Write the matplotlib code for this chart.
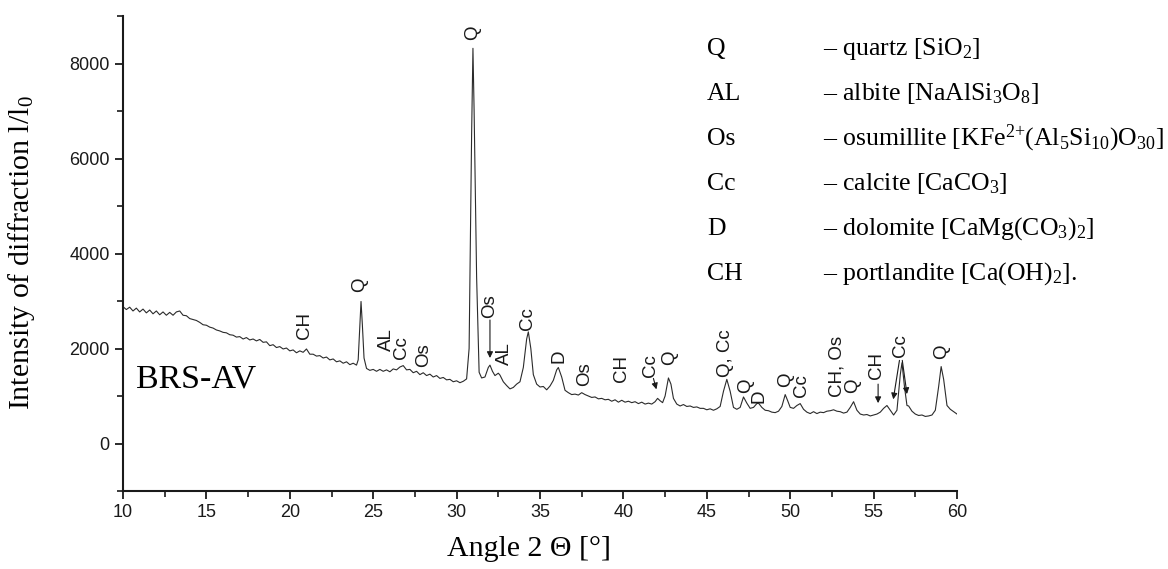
import matplotlib
matplotlib.use("Agg")
import matplotlib.pyplot as plt
from matplotlib.ticker import MultipleLocator

plt.rcParams['font.family'] = ['Liberation Sans', 'DejaVu Sans']
plt.rcParams['mathtext.fontset'] = 'custom'
plt.rcParams['mathtext.rm'] = 'Liberation Serif'
plt.rcParams['mathtext.it'] = 'Liberation Serif:italic'

# diffractogram (2 theta in degrees, counts)
two_theta = [10.0, 10.2, 10.4, 10.6, 10.8, 11.0, 11.2, 11.4, 11.6, 11.8,
             12.0, 12.2, 12.4, 12.6, 12.8, 13.0, 13.2, 13.4, 13.6, 13.8,
             14.0, 14.2, 14.4, 14.6, 14.8, 15.0, 15.2, 15.4, 15.6, 15.8,
             16.0, 16.2, 16.4, 16.6, 16.8, 17.0, 17.2, 17.4, 17.6, 17.8,
             18.0, 18.2, 18.4, 18.6, 18.8, 19.0, 19.2, 19.4, 19.6, 19.8,
             20.0, 20.2, 20.4, 20.6, 20.8, 21.0, 21.2, 21.4, 21.6, 21.8,
             22.0, 22.2, 22.4, 22.6, 22.8, 23.0, 23.2, 23.4, 23.6, 23.8,
             24.0, 24.1, 24.2, 24.27, 24.35, 24.45, 24.6, 24.8, 25.0, 25.2,
             25.4, 25.6, 25.8, 26.0, 26.2, 26.4, 26.6, 26.8, 27.0, 27.2,
             27.4, 27.6, 27.8, 28.0, 28.2, 28.4, 28.6, 28.8, 29.0, 29.2,
             29.4, 29.6, 29.8, 30.0, 30.2, 30.4, 30.6, 30.75, 30.9, 30.98,
             31.05, 31.2, 31.35, 31.5, 31.7, 31.9, 32.0, 32.15, 32.3, 32.5,
             32.6, 32.8, 33.0, 33.2, 33.4, 33.6, 33.8, 34.0, 34.2, 34.3,
             34.45, 34.6, 34.8, 35.0, 35.2, 35.4, 35.6, 35.8, 36.0, 36.1,
             36.3, 36.5, 36.7, 36.9, 37.1, 37.3, 37.5, 37.7, 37.9, 38.1,
             38.3, 38.5, 38.7, 38.9, 39.1, 39.3, 39.5, 39.7, 39.9, 40.1,
             40.3, 40.5, 40.7, 40.9, 41.1, 41.3, 41.5, 41.7, 41.9, 42.05,
             42.2, 42.35, 42.5, 42.7, 42.85, 43.0, 43.2, 43.4, 43.6, 43.8,
             44.0, 44.2, 44.4, 44.6, 44.8, 45.0, 45.2, 45.4, 45.6, 45.8,
             46.0, 46.2, 46.4, 46.6, 46.8, 47.0, 47.2, 47.4, 47.6, 47.8,
             48.0, 48.1, 48.3, 48.5, 48.7, 48.9, 49.1, 49.3, 49.5, 49.7,
             49.85, 50.0, 50.2, 50.4, 50.6, 50.8, 51.0, 51.2, 51.4, 51.6,
             51.8, 52.0, 52.2, 52.4, 52.6, 52.8, 53.0, 53.2, 53.4, 53.6,
             53.8, 54.0, 54.2, 54.4, 54.6, 54.8, 55.0, 55.2, 55.4, 55.6,
             55.8, 56.0, 56.2, 56.4, 56.6, 56.7, 56.85, 57.0, 57.1, 57.3,
             57.5, 57.7, 57.9, 58.1, 58.3, 58.5, 58.7, 58.9, 59.05, 59.2,
             59.4, 59.6, 59.8, 60.0]
counts = [2880, 2820, 2870, 2790, 2850, 2770, 2830, 2750, 2810, 2730,
          2790, 2710, 2770, 2700, 2760, 2700, 2770, 2790, 2700, 2690,
          2630, 2610, 2590, 2550, 2500, 2490, 2450, 2430, 2390, 2370,
          2340, 2330, 2290, 2280, 2240, 2250, 2200, 2230, 2180, 2200,
          2160, 2190, 2130, 2140, 2060, 2080, 2020, 2040, 1990, 2010,
          1950, 1970, 1910, 1950, 1920, 1990, 1880, 1880, 1840, 1850,
          1800, 1820, 1760, 1780, 1720, 1740, 1690, 1720, 1660, 1690,
          1650, 1760, 2500, 2990, 2500, 1800, 1580, 1540, 1560, 1520,
          1560, 1520, 1550, 1510, 1570, 1550, 1610, 1640, 1550, 1560,
          1490, 1520, 1450, 1490, 1430, 1460, 1400, 1430, 1370, 1390,
          1340, 1350, 1300, 1320, 1280, 1310, 1360, 2000, 6500, 8320,
          7000, 3500, 1500, 1380, 1400, 1600, 1650, 1520, 1430, 1480,
          1440, 1300, 1220, 1150, 1180, 1250, 1300, 1600, 2200, 2350,
          2000, 1450, 1250, 1190, 1200, 1130, 1210, 1330, 1550, 1600,
          1400, 1120, 1070, 1030, 1040, 1020, 1070, 1030, 1000, 970,
          980, 940, 950, 920, 930, 890, 920, 870, 910, 870,
          890, 860, 880, 840, 870, 830, 850, 830, 880, 950,
          900, 860, 1000, 1380, 1250, 950, 830, 790, 820, 780,
          790, 760, 770, 740, 740, 710, 730, 700, 730, 780,
          1100, 1350, 1100, 760, 720, 760, 980, 850, 740, 760,
          840, 850, 760, 700, 690, 660, 650, 680, 780, 1030,
          900, 760, 740, 800, 840, 720, 660, 630, 670, 630,
          660, 650, 680, 690, 710, 680, 670, 640, 660, 760,
          880, 700, 620, 600, 610, 580, 600, 620, 660, 740,
          800, 700, 600, 700, 1450, 1700, 1200, 800, 790, 680,
          620, 590, 600, 570, 580, 600, 700, 1200, 1620, 1350,
          800, 720, 670, 620]

# phase labels: text, x, y of text bottom
peak_labels = ['CH', 'Q', 'AL', 'Cc', 'Os', 'Q', 'Os', 'AL', 'Cc', 'D',
               'Os', 'CH', 'Cc', 'Q', 'Q, Cc', 'Q', 'D', 'Q', 'Cc', 'CH, Os',
               'Q', 'CH', 'Cc', 'Q']
label_x = [20.9, 24.2, 25.8, 26.7, 28.05, 30.98, 32.0, 32.85, 34.28, 36.14,
           37.65, 39.86, 41.6, 42.8, 46.15, 47.3, 48.15, 49.75, 50.65, 52.8,
           53.77, 55.2, 56.6, 59.1]
label_y = [2190, 3180, 1940, 1770, 1620, 8500, 2650, 1660, 2400, 1700,
           1200, 1300, 1410, 1660, 1410, 1070, 860, 1180, 970, 970,
           1070, 1350, 1830, 1770]

# arrows: start (x, y) -> head (x, y)
arrow_from = [(32.0, 2600), (41.8, 1370), (55.27, 1250), (56.55, 1750), (56.72, 1750)]
arrow_to = [(32.0, 1800), (41.98, 1140), (55.27, 850), (56.18, 930), (57.0, 1040)]

legend_keys = ['Q', 'AL', 'Os', 'Cc', 'D', 'CH']
legend_names = ['– quartz [SiO$_2$]',
                '– albite [NaAlSi$_3$O$_8$]',
                '– osumillite [KFe$^{2{+}}$(Al$_5$Si$_{10}$)O$_{30}$]',
                '– calcite [CaCO$_3$]',
                '– dolomite [CaMg(CO$_3$)$_2$]',
                '– portlandite [Ca(OH)$_2$].']

W, H = 1168, 569
fig = plt.figure(figsize=(W / 100, H / 100), dpi=100)
ax = fig.add_axes([123 / W, 1 - 491 / H, (957 - 123) / W, (491 - 16) / H])

ax.plot(two_theta, counts, color='#2b2b2b', lw=0.8)

for t, x, y in zip(peak_labels, label_x, label_y):
    ax.text(x, y, t, rotation=90, ha='center', va='bottom', fontsize=13.5, color='#1a1a1a')

for (x0, y0), (x1, y1) in zip(arrow_from, arrow_to):
    ax.annotate('', xy=(x1, y1), xytext=(x0, y0),
                arrowprops=dict(arrowstyle='-|>', color='#1a1a1a', lw=0.8,
                                mutation_scale=9, shrinkA=0, shrinkB=0))

ax.text(10.8, 1350, 'BRS-AV', fontsize=24.5, family='Liberation Serif', va='center', ha='left')

ax.set_xlim(10, 60)
ax.set_ylim(-1000, 9000)
ax.xaxis.set_major_locator(MultipleLocator(5))
ax.xaxis.set_minor_locator(MultipleLocator(2.5))
ax.yaxis.set_major_locator(MultipleLocator(2000))
ax.yaxis.set_minor_locator(MultipleLocator(1000))
ax.spines['top'].set_visible(False)
ax.spines['right'].set_visible(False)
for s in ['left', 'bottom']:
    ax.spines[s].set_linewidth(1.5)
    ax.spines[s].set_color('#1a1a1a')
ax.tick_params(which='major', direction='out', length=6, width=1.3, labelsize=13, colors='#1a1a1a')
ax.tick_params(which='minor', direction='out', length=4, width=1.2, colors='#1a1a1a')

fig.text(529 / W, 1 - 549 / H, 'Angle 2 Θ [°]', family='Liberation Serif', fontsize=21.5,
         ha='center', va='center')
fig.text(22 / W, 1 - 253 / H, 'Intensity of diffraction l/l$_0$', family='Liberation Serif',
         fontsize=21.5, rotation=90, ha='center', va='center')

for i, (k, n) in enumerate(zip(legend_keys, legend_names)):
    yb = 1 - (55 + 45 * i) / H
    fig.text(707 / W, yb, k, family='Liberation Serif', fontsize=18.5, va='baseline')
    fig.text(823 / W, yb, n, family='Liberation Serif', fontsize=18.5, va='baseline')

fig.savefig('out.png', dpi=100)
